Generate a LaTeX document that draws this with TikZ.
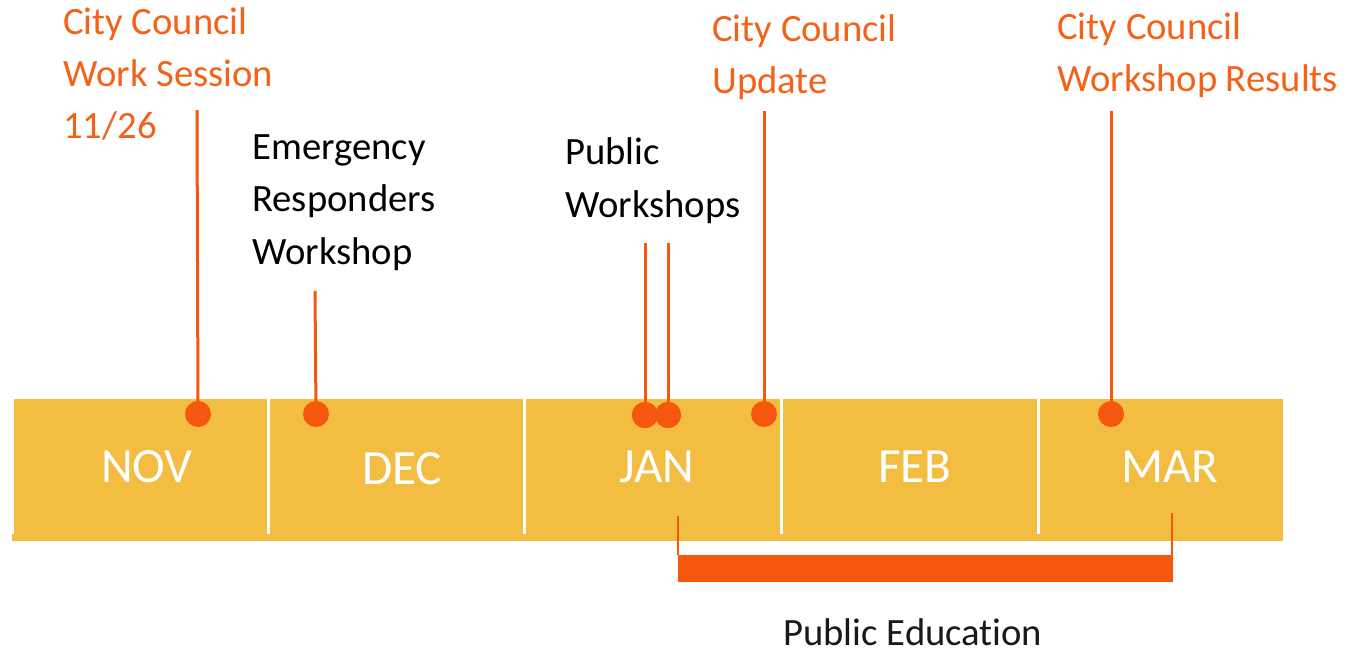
\documentclass[tikz,border=0pt]{standalone}
\usepackage{fontspec}
\setmainfont[Ligatures=NoCommon]{Carlito}

\definecolor{barYellow}{HTML}{F2BD41}
\definecolor{councilOrange}{HTML}{F5570F}
\definecolor{labelOrange}{HTML}{F4621A}

\tikzset{
  month/.style={font=\fontsize{28}{34}\selectfont, text=white, inner sep=0pt, anchor=base},
  note/.style={font=\fontsize{22}{29.6}\selectfont, align=left, inner sep=0pt, anchor=base west},
  council/.style={note, text=labelOrange},
  event/.style={circle, fill=councilOrange, inner sep=0pt, minimum size=0.52cm},
  stem/.style={councilOrange, line width=0.06cm},
  divider/.style={white, line width=0.06cm},
}

\begin{document}
\begin{tikzpicture}[x=0.02cm, y=-0.02cm]
    \useasboundingbox (0,0) rectangle (1347,652);
    % Month bar
    \fill[barYellow] (12,399) rectangle (1283,541);
    \draw[divider, line width=0.04cm] (13,399) -- (13,534);
    \foreach \x in {268,524,781,1038}
        \draw[divider] (\x,399) -- (\x,534);
    \node[month] (nov) at (147,482) {NOV};
    \node[month] (dec) at (402,484) {DEC};
    \node[month] (jan) at (657,482) {JAN};
    \node[month] (feb) at (915,482) {FEB};
    \node[month] (mar) at (1170,482) {MAR};

    % Event labels (placed by the baseline of their last line)
    \node[council] (workSession) at (63,139) {City Council\\Work Session\\11/26};
    \node[note] (responders) at (252,264) {Emergency\\Responders\\Workshop};
    \node[note] (publicWs) at (565,217) {Public\\Workshops};
    \node[council] (update) at (712,94) {City Council\\Update};
    \node[council] (results) at (1057,92) {City Council\\Workshop Results};

    % Event dots and stems
    \node[event] (evNov) at (198,414) {};
    \node[event] (evDec) at (316,414) {};
    \node[event] (evJanA) at (645,415) {};
    \node[event] (evJanB) at (668,415) {};
    \node[event] (evUpd) at (764,414) {};
    \node[event] (evMar) at (1111,414) {};
    \coordinate (topNov) at (197,110);
    \coordinate (topDec) at (315,291);
    \coordinate (topJanA) at (645,243);
    \coordinate (topJanB) at (668,243);
    \coordinate (topUpd) at (764,111);
    \coordinate (topMar) at (1111,111);
    \draw[stem] (topNov) -- (evNov.center);
    \draw[stem] (topDec) -- (evDec.center);
    \draw[stem] (topJanA) -- (evJanA.center);
    \draw[stem] (topJanB) -- (evJanB.center);
    \draw[stem] (topUpd) -- (evUpd.center);
    \draw[stem] (topMar) -- (evMar.center);
    \node[event] at (evJanA) {};
    \node[event] at (evJanB) {};

    % Public education span
    \fill[councilOrange] (678,555) coordinate (spanL) rectangle (1173,582) coordinate (spanR);
    \coordinate (tickL) at (678,516);
    \coordinate (tickR) at (1172,513);
    \draw[councilOrange, line width=0.6pt] (tickL) -- (spanL);
    \draw[councilOrange, line width=0.6pt] (tickR) -- (tickR |- spanL);
    \node[note, text=black!90] (pubEd) at (783,645) {Public Education};
\end{tikzpicture}
\end{document}
